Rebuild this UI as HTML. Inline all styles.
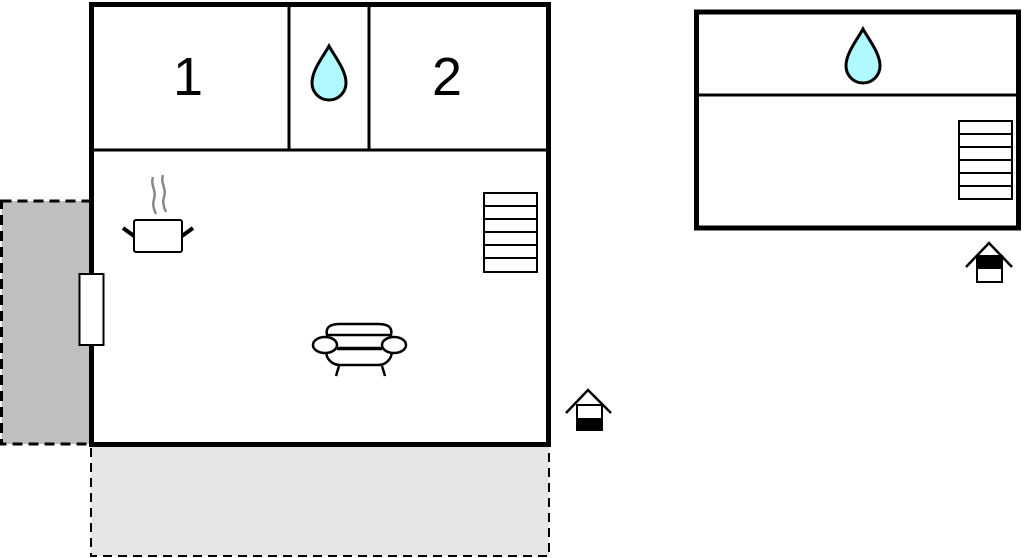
<!DOCTYPE html>
<html><head><style>html,body{margin:0;padding:0;background:#fff;width:1024px;height:558px;overflow:hidden}</style></head>
<body>
<svg width="1024" height="558" viewBox="0 0 1024 558" xmlns="http://www.w3.org/2000/svg">
<defs>
<g id="drop"><path d="M0,-29 C-6,-18 -17,-5 -17,8 A17,17 0 0 0 17,8 C17,-5 6,-18 0,-29 Z" fill="#b0faff" stroke="#000" stroke-width="3"/></g>
</defs>
<!-- terraces -->
<rect x="1.5" y="201" width="89" height="243" fill="#c0c0c0" stroke="#000" stroke-width="3" stroke-dasharray="10,6"/>
<rect x="91" y="446" width="458" height="110" fill="#e5e5e5" stroke="#000" stroke-width="2" stroke-dasharray="9,6"/>
<!-- main building -->
<rect x="91.5" y="4.5" width="457" height="440" fill="#fff" stroke="#000" stroke-width="5"/>
<line x1="91" y1="150" x2="549" y2="150" stroke="#000" stroke-width="3"/>
<line x1="289" y1="4" x2="289" y2="150" stroke="#000" stroke-width="3"/>
<line x1="369" y1="4" x2="369" y2="150" stroke="#000" stroke-width="3"/>
<text x="188" y="95" font-family="Liberation Sans, sans-serif" font-size="54" text-anchor="middle">1</text>
<text x="447" y="95" font-family="Liberation Sans, sans-serif" font-size="54" text-anchor="middle">2</text>
<use href="#drop" x="329" y="75"/>
<!-- door -->
<rect x="79.5" y="274" width="24" height="71" fill="#fff" stroke="#000" stroke-width="2"/>
<!-- stairs main -->
<g stroke="#000" stroke-width="2" fill="#fff">
<rect x="484" y="193" width="53" height="79"/>
<line x1="484" y1="206" x2="537" y2="206"/><line x1="484" y1="219" x2="537" y2="219"/><line x1="484" y1="232" x2="537" y2="232"/><line x1="484" y1="245" x2="537" y2="245"/><line x1="484" y1="258" x2="537" y2="258"/>
</g>
<!-- pot -->
<g fill="none">
<path d="M153,177 C150,185 157,191 154,199 C152,205 154,210 156,214" stroke="#888" stroke-width="2.5"/>
<path d="M163,175 C160,183 167,189 164,197 C162,203 164,208 166,212" stroke="#888" stroke-width="2.5"/>
<rect x="134" y="220" width="48" height="32" rx="2" fill="#fff" stroke="#000" stroke-width="2"/>
<line x1="123" y1="228" x2="134" y2="236" stroke="#000" stroke-width="4"/>
<line x1="193" y1="228" x2="182" y2="236" stroke="#000" stroke-width="4"/>
</g>
<!-- sofa -->
<g fill="#fff" stroke="#000" stroke-width="2.5">
<path d="M327,335 C325,326 332,324 340,324 L378,324 C386,324 393,326 391,335 Z"/>
<path d="M327,348 C324,358 332,365 340,365 L378,365 C386,365 394,358 391,348 Z"/>
<ellipse cx="325" cy="345" rx="12" ry="8"/>
<ellipse cx="394" cy="345" rx="12" ry="8"/>
<line x1="337" y1="349" x2="382" y2="349"/>
<line x1="339" y1="366" x2="336" y2="376"/>
<line x1="382" y1="366" x2="385" y2="376"/>
</g>
<!-- entry icon main -->
<g>
<polyline points="566,413 588,390 611,413" fill="none" stroke="#000" stroke-width="2.5"/>
<rect x="577" y="405" width="25" height="25" fill="#fff" stroke="#000" stroke-width="2"/>
<rect x="577" y="418" width="25" height="12" fill="#000"/>
</g>
<!-- right building -->
<rect x="696.5" y="12" width="322" height="216" fill="#fff" stroke="#000" stroke-width="5"/>
<line x1="696" y1="95" x2="1019" y2="95" stroke="#000" stroke-width="3"/>
<use href="#drop" x="863" y="58"/>
<g stroke="#000" stroke-width="2" fill="#fff">
<rect x="959" y="121" width="53" height="78"/>
<line x1="959" y1="134" x2="1012" y2="134"/><line x1="959" y1="147" x2="1012" y2="147"/><line x1="959" y1="160" x2="1012" y2="160"/><line x1="959" y1="173" x2="1012" y2="173"/><line x1="959" y1="186" x2="1012" y2="186"/>
</g>
<g>
<polyline points="966,267 989,243 1012,267" fill="none" stroke="#000" stroke-width="2.5"/>
<rect x="977" y="256" width="25" height="26" fill="#fff" stroke="#000" stroke-width="2"/>
<rect x="977" y="256" width="25" height="13" fill="#000"/>
</g>
</svg>
</body></html>
